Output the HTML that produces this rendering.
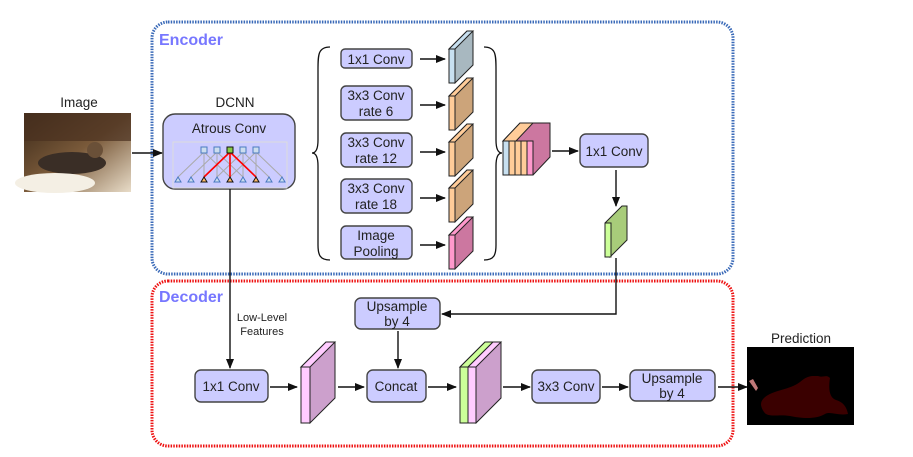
<!DOCTYPE html>
<html><head><meta charset="utf-8"><style>
html,body{margin:0;padding:0;background:#fff;}
svg{display:block;}
text{font-family:"Liberation Sans",sans-serif;fill:#222;}
.b{fill:#ccccff;stroke:#444;stroke-width:1.4;}
.t{font-size:13.5px;text-anchor:middle;}
.a{stroke:#111;stroke-width:1.4;fill:none;}
</style></head><body>
<svg width="913" height="457" viewBox="0 0 913 457" xmlns="http://www.w3.org/2000/svg">
<defs>
<marker id="ar" markerWidth="10" markerHeight="8" refX="9" refY="4" orient="auto" markerUnits="userSpaceOnUse"><path d="M0,0 L10,4 L0,8 z" fill="#111"/></marker>
</defs>
<rect x="152" y="22" width="581" height="252" rx="16" fill="none" stroke="#3a6ab8" stroke-width="3" stroke-dasharray="1.5,1.2"/>
<text x="159" y="45" style="font-size:16px;font-weight:bold;fill:#7777ff">Encoder</text>
<rect x="152" y="281" width="581" height="165" rx="16" fill="none" stroke="#ee1111" stroke-width="3" stroke-dasharray="1.5,1.2"/>
<text x="159" y="302" style="font-size:16px;font-weight:bold;fill:#7777ff">Decoder</text>

<text x="79" y="107" class="t">Image</text>
<defs><linearGradient id="cat" x1="0" y1="0" x2="1" y2="1"><stop offset="0" stop-color="#3a2818"/><stop offset="0.5" stop-color="#7a5a3a"/><stop offset="1" stop-color="#e8dcc8"/></linearGradient></defs>
<rect x="24" y="113" width="107" height="79" fill="url(#cat)"/>
<rect x="24" y="113" width="107" height="28" fill="#4a3020" opacity="0.7"/>
<ellipse cx="72" cy="163" rx="34" ry="11" fill="#3a2e26"/>
<ellipse cx="55" cy="183" rx="40" ry="10" fill="#f4efe4"/>
<ellipse cx="95" cy="150" rx="8" ry="8" fill="#6a5038"/>
<line x1="132" y1="153" x2="162" y2="153" class="a" marker-end="url(#ar)"/>

<text x="235" y="107" class="t">DCNN</text>
<rect x="163" y="114" width="132" height="75" rx="12" class="b"/>
<text x="229" y="133" class="t">Atrous Conv</text>
<rect x="173" y="142" width="114" height="46" fill="none" stroke="#ddd"/>
<g stroke="#aaa" stroke-width="1">
<line x1="204" y1="152" x2="178" y2="177"/><line x1="204" y1="152" x2="204" y2="177"/><line x1="204" y1="152" x2="230" y2="177"/>
<line x1="217" y1="152" x2="191" y2="177"/><line x1="217" y1="152" x2="217" y2="177"/><line x1="217" y1="152" x2="243" y2="177"/>
<line x1="243" y1="152" x2="217" y2="177"/><line x1="243" y1="152" x2="243" y2="177"/><line x1="243" y1="152" x2="269" y2="177"/>
<line x1="256" y1="152" x2="230" y2="177"/><line x1="256" y1="152" x2="256" y2="177"/><line x1="256" y1="152" x2="282" y2="177"/>
</g>
<g stroke="#f00" stroke-width="1.6"><line x1="230" y1="152" x2="204" y2="177"/><line x1="230" y1="152" x2="230" y2="177"/><line x1="230" y1="152" x2="256" y2="177"/></g>
<g fill="#cde" stroke="#4a7ac0" stroke-width="1"><rect x="201" y="147" width="6" height="6"/><rect x="214" y="147" width="6" height="6"/><rect x="240" y="147" width="6" height="6"/><rect x="253" y="147" width="6" height="6"/></g>
<rect x="227" y="147" width="6" height="6" fill="#8c4" stroke="#111"/>
<g fill="#cde" stroke="#4a7ac0"><path d="M178,177l-3,5h6z"/><path d="M191,177l-3,5h6z"/><path d="M217,177l-3,5h6z"/><path d="M243,177l-3,5h6z"/><path d="M269,177l-3,5h6z"/><path d="M282,177l-3,5h6z"/></g>
<g fill="#fb6" stroke="#111"><path d="M204,177l-3,5h6z"/><path d="M230,177l-3,5h6z"/><path d="M256,177l-3,5h6z"/></g>

<path d="M330,47 C318,47 318,55 318,70 L318,140 C318,148 316,153 312,153 C316,153 318,158 318,166 L318,245 C318,255 320,260 330,260" fill="none" stroke="#111" stroke-width="1.3"/>
<path d="M484,47 C496,47 496,55 496,70 L496,140 C496,148 498,153 502,153 C498,153 496,158 496,166 L496,245 C496,255 494,260 484,260" fill="none" stroke="#111" stroke-width="1.3"/>

<rect x="341" y="49" width="71" height="19" rx="4" class="b"/><text x="376" y="64" class="t">1x1 Conv</text>
<rect x="341" y="86" width="71" height="34" rx="5" class="b"/><text x="376" y="100" class="t">3x3 Conv</text><text x="376" y="116" class="t">rate 6</text>
<rect x="341" y="133" width="71" height="34" rx="5" class="b"/><text x="376" y="147" class="t">3x3 Conv</text><text x="376" y="163" class="t">rate 12</text>
<rect x="341" y="179" width="71" height="34" rx="5" class="b"/><text x="376" y="193" class="t">3x3 Conv</text><text x="376" y="209" class="t">rate 18</text>
<rect x="341" y="226" width="71" height="33" rx="5" class="b"/><text x="376" y="240" class="t">Image</text><text x="376" y="256" class="t">Pooling</text>
<g class="a"><line x1="420" y1="59" x2="445" y2="59" marker-end="url(#ar)"/><line x1="420" y1="105" x2="445" y2="105" marker-end="url(#ar)"/><line x1="420" y1="152" x2="445" y2="152" marker-end="url(#ar)"/><line x1="420" y1="198" x2="445" y2="198" marker-end="url(#ar)"/><line x1="420" y1="245" x2="445" y2="245" marker-end="url(#ar)"/></g>

<g stroke="#222" stroke-width="1">
<path d="M449,49 l18,-18 h6 v34 l-18,18 z" fill="#a8b8c0"/><path d="M449,49 l18,-18 h6 l-18,18z" fill="#c8e0f0"/><rect x="449" y="49" width="6" height="34" fill="#c8e0f0"/>
<path d="M449,96 l18,-18 h6 v34 l-18,18 z" fill="#cca47a"/><path d="M449,96 l18,-18 h6 l-18,18z" fill="#ffcc99"/><rect x="449" y="96" width="6" height="34" fill="#ffcc99"/>
<path d="M449,142 l18,-18 h6 v34 l-18,18 z" fill="#cca47a"/><path d="M449,142 l18,-18 h6 l-18,18z" fill="#ffcc99"/><rect x="449" y="142" width="6" height="34" fill="#ffcc99"/>
<path d="M449,188 l18,-18 h6 v34 l-18,18 z" fill="#cca47a"/><path d="M449,188 l18,-18 h6 l-18,18z" fill="#ffcc99"/><rect x="449" y="188" width="6" height="34" fill="#ffcc99"/>
<path d="M449,235 l18,-18 h6 v34 l-18,18 z" fill="#cc77a0"/><path d="M449,235 l18,-18 h6 l-18,18z" fill="#ff99cc"/><rect x="449" y="235" width="6" height="34" fill="#ff99cc"/>
</g>

<g stroke="#222" stroke-width="1">
<path d="M503,141 l17,-18 h30 v34 l-17,18 h-30z" fill="#cc77a0"/>
<path d="M503,141 l17,-18 h13 l-17,18z" fill="#ffcc99"/>
<rect x="503" y="141" width="6" height="34" fill="#c8e0f0"/>
<rect x="509" y="141" width="6" height="34" fill="#ffcc99"/>
<rect x="515" y="141" width="6" height="34" fill="#ffcc99"/>
<rect x="521" y="141" width="6" height="34" fill="#ffcc99"/>
<rect x="527" y="141" width="6" height="34" fill="#ff99cc"/>
</g>
<line x1="552" y1="151" x2="578" y2="151" class="a" marker-end="url(#ar)"/>
<rect x="580" y="134" width="68" height="33" rx="6" class="b"/><text x="614" y="156" class="t">1x1 Conv</text>
<line x1="616" y1="170" x2="616" y2="206" class="a" marker-end="url(#ar)"/>
<g stroke="#222" stroke-width="1"><path d="M605,223 l17,-17 h5 v34 l-17,17z" fill="#a8cc7a"/><rect x="605" y="223" width="6" height="34" fill="#ccff99"/></g>
<polyline points="616,258 616,314 442,314" class="a" marker-end="url(#ar)"/>

<rect x="355" y="298" width="85" height="31" rx="6" class="b"/><text x="397" y="311" class="t">Upsample</text><text x="397" y="326" class="t">by 4</text>
<line x1="398" y1="331" x2="398" y2="368" class="a" marker-end="url(#ar)"/>
<line x1="230" y1="189" x2="230" y2="368" class="a" marker-end="url(#ar)"/>
<text x="262" y="321" style="font-size:11px;text-anchor:middle">Low-Level</text>
<text x="262" y="335" style="font-size:11px;text-anchor:middle">Features</text>
<rect x="195" y="370" width="73" height="32" rx="6" class="b"/><text x="231" y="391" class="t">1x1 Conv</text>
<line x1="270" y1="387" x2="297" y2="387" class="a" marker-end="url(#ar)"/>
<g stroke="#222" stroke-width="1"><path d="M301,367 l25,-25 h9 v56 l-25,25z" fill="#cca0cc"/><path d="M301,367 l25,-25 h9 l-25,25z" fill="#ffccff"/><rect x="301" y="367" width="9" height="56" fill="#ffccff"/></g>
<line x1="338" y1="387" x2="364" y2="387" class="a" marker-end="url(#ar)"/>
<rect x="367" y="370" width="59" height="32" rx="6" class="b"/><text x="396" y="391" class="t">Concat</text>
<line x1="428" y1="387" x2="456" y2="387" class="a" marker-end="url(#ar)"/>
<g stroke="#222" stroke-width="1"><path d="M460,367 l25,-25 h16 v56 l-25,25z" fill="#cca0cc"/><path d="M460,367 l25,-25 h8 l-25,25z" fill="#ccff99"/><path d="M468,367 l25,-25 h8 l-25,25z" fill="#ffccff"/><rect x="460" y="367" width="8" height="56" fill="#ccff99"/><rect x="468" y="367" width="8" height="56" fill="#ffccff"/></g>
<line x1="503" y1="387" x2="530" y2="387" class="a" marker-end="url(#ar)"/>
<rect x="532" y="370" width="68" height="33" rx="6" class="b"/><text x="566" y="391" class="t">3x3 Conv</text>
<line x1="602" y1="387" x2="628" y2="387" class="a" marker-end="url(#ar)"/>
<rect x="630" y="370" width="85" height="31" rx="6" class="b"/><text x="672" y="383" class="t">Upsample</text><text x="672" y="398" class="t">by 4</text>
<line x1="718" y1="387" x2="747" y2="387" class="a" marker-end="url(#ar)"/>

<text x="801" y="343" class="t">Prediction</text>
<rect x="747" y="347" width="107" height="78" fill="#000"/>
<path d="M764,398 C772,390 790,390 800,382 C808,375 812,376 818,376 C824,378 826,374 830,378 C828,390 830,398 836,400 C842,402 846,405 848,414 C838,416 830,411 825,414 C815,420 800,418 790,416 C778,414 768,418 764,412 C760,406 760,402 764,398z" fill="#3a0000"/>
<path d="M749,381 l4,-2 l5,9 l-2,3z" fill="#c07878"/>
</svg>
</body></html>
